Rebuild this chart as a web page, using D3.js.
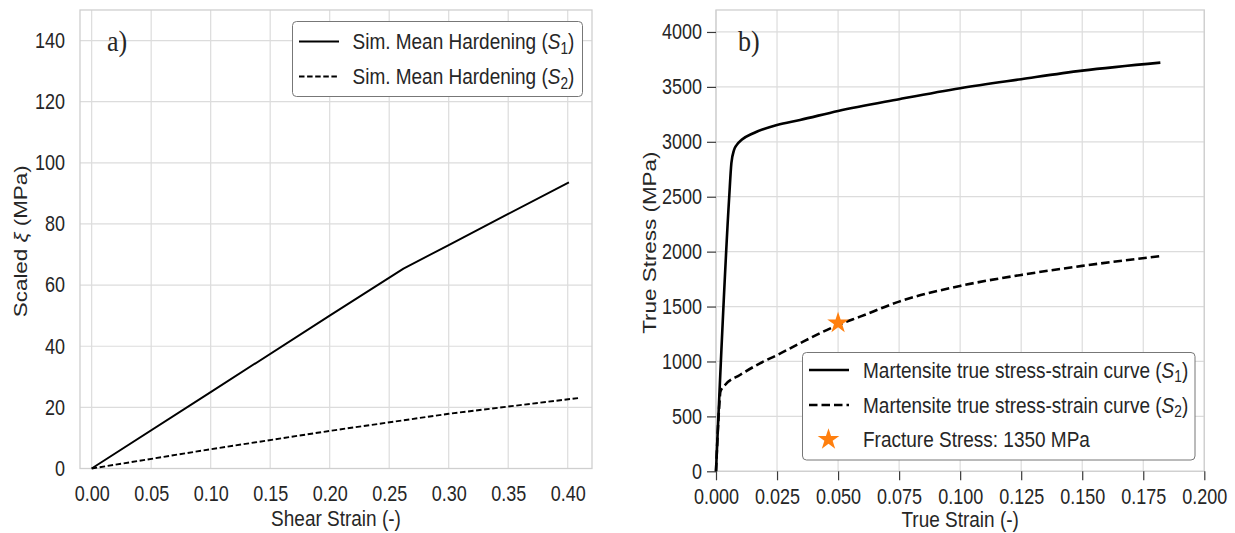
<!DOCTYPE html>
<html>
<head>
<meta charset="utf-8">
<script src="https://cdn.jsdelivr.net/npm/d3@7"></script>
<style>
  body { margin: 0; background: #fff; }
  svg { display: block; }
  text { font-family: "Liberation Sans", Arial, Helvetica, sans-serif; fill: #262626; }
</style>
</head>
<body>
<div id="chart"></div>
<script>
// panel a) simulated mean hardening
var shearStrainS1 = [0, 0.10, 0.20, 0.262, 0.30, 0.35, 0.401];
var xiS1 = [0, 25, 50, 65.4, 73.1, 83.3, 93.6];
var shearStrainS2 = [0, 0.10, 0.20, 0.30, 0.41];
var xiS2 = [0, 6.3, 12.3, 17.9, 23.1];
var xiTicks = [0, 20, 40, 60, 80, 100, 120, 140];
var shearTicks = [0, 0.05, 0.10, 0.15, 0.20, 0.25, 0.30, 0.35, 0.40];

// panel b) martensite true stress-strain curves
var trueStrainS1 = [0, 0.0054, 0.0063, 0.0074, 0.0085, 0.0105, 0.0153, 0.025, 0.0344, 0.05, 0.075, 0.10, 0.125, 0.15, 0.182];
var stressS1 = [0, 2495, 2805, 2926, 2972, 3018, 3078, 3154, 3199, 3281, 3388, 3488, 3570, 3648, 3721];
var trueStrainS2 = [0, 0.0014, 0.0018, 0.0037, 0.0098, 0.018, 0.0251, 0.0344, 0.05, 0.059, 0.075, 0.10, 0.125, 0.15, 0.182];
var stressS2 = [0, 620, 725, 786, 877, 983, 1059, 1166, 1332, 1408, 1545, 1688, 1788, 1870, 1960];
var fracture = [0.05, 1350];
var stressTicks = [0, 500, 1000, 1500, 2000, 2500, 3000, 3500, 4000];
var strainTicks = [0, 0.025, 0.05, 0.075, 0.10, 0.125, 0.15, 0.175, 0.20];

var W = 1235, H = 533;
var SY = 1.18;          // the source image is slightly stretched vertically
var gridColor = "#dcdcdc", frameColor = "#cfcfcf";

var svg = d3.select("#chart").append("svg")
    .attr("width", W)
    .attr("height", H);

function zip(xs, ys) {
    return xs.map(function (x, i) { return [x, ys[i]]; });
}

// stretched text helper
function stext(g, x, y, size, anchor, rotate) {
    var t = g.append("text")
        .attr("transform", "translate(" + x + "," + y + ")" +
            (rotate ? " rotate(-90) scale(" + SY + ",1)" : " scale(1," + SY + ")"))
        .attr("text-anchor", anchor || "start")
        .style("font-size", size + "px");
    return t;
}

function subLabel(t, pre, sub, post) {
    t.append("tspan").text(pre);
    t.append("tspan").style("font-style", "italic").text("S");
    t.append("tspan").attr("dy", 4).style("font-size", "0.72em").text(sub);
    t.append("tspan").attr("dy", -4).text(post);
}

function panel(opt) {
    var g = svg.append("g");
    var x = d3.scaleLinear().domain(opt.xDomain).range([opt.left, opt.right]);
    var y = d3.scaleLinear().domain(opt.yDomain).range([opt.bottom, opt.top]);

    // grid
    g.append("g").selectAll("line.gx").data(opt.xTicks).enter().append("line")
        .attr("x1", function (d) { return x(d); }).attr("x2", function (d) { return x(d); })
        .attr("y1", opt.top).attr("y2", opt.bottom)
        .attr("stroke", gridColor).attr("stroke-width", 1.2);
    g.append("g").selectAll("line.gy").data(opt.yTicks).enter().append("line")
        .attr("y1", function (d) { return y(d); }).attr("y2", function (d) { return y(d); })
        .attr("x1", opt.left).attr("x2", opt.right)
        .attr("stroke", gridColor).attr("stroke-width", 1.2);

    g.append("rect")
        .attr("x", opt.left).attr("y", opt.top)
        .attr("width", opt.right - opt.left).attr("height", opt.bottom - opt.top)
        .attr("fill", "none").attr("stroke", frameColor).attr("stroke-width", 1.3);

    // axes
    var tickFs = 18;
    var ax = g.append("g").attr("transform", "translate(0," + opt.bottom + ")")
        .call(d3.axisBottom(x).tickValues(opt.xTicks).tickFormat(d3.format(opt.xFormat))
            .tickSize(opt.tickLen).tickPadding(0));
    var ay = g.append("g").attr("transform", "translate(" + opt.left + ",0)")
        .call(d3.axisLeft(y).tickValues(opt.yTicks).tickFormat(d3.format("d"))
            .tickSize(opt.tickLen).tickPadding(opt.yPad));
    [ax, ay].forEach(function (a) {
        a.select(".domain").remove();
        a.selectAll("line").attr("stroke", "#3a3a3a").attr("stroke-width", 1.2);
        a.selectAll("text").style("font-size", tickFs + "px").style("font-family", null)
            .attr("fill", "#262626");
    });
    ax.selectAll("text")
        .attr("y", opt.xLabGap / SY + 0.358 * tickFs).attr("dy", 0)
        .attr("transform", "scale(1," + SY + ")");
    ay.selectAll("text").attr("transform", "scale(1," + SY + ")");

    // axis titles
    stext(g, (opt.left + opt.right) / 2, opt.xTitleY, 19, "middle").text(opt.xTitle);
    var yt = stext(g, opt.yTitleX, (opt.top + opt.bottom) / 2 + 2, 19, "middle", true);
    opt.yTitle(yt);

    // panel letter
    g.append("text")
        .attr("transform", "translate(" + opt.letterX + ",51) scale(1,1.1)")
        .style("font-family", '"Liberation Serif", "Times New Roman", serif')
        .style("font-size", "26px").attr("fill", "#000")
        .text(opt.letter);

    var line = d3.line()
        .x(function (d) { return x(d[0]); })
        .y(function (d) { return y(d[1]); });
    opt.series.forEach(function (s) {
        g.append("path")
            .attr("d", line.curve(s.curve || d3.curveLinear)(s.data))
            .attr("fill", "none")
            .attr("stroke", "#000")
            .attr("stroke-width", s.width)
            .attr("stroke-dasharray", s.dash || null)
            .attr("stroke-linejoin", "round");
    });
    return { g: g, x: x, y: y };
}

// ---------- panel a ----------
var pa = panel({
    left: 80, right: 592, top: 10, bottom: 468.5,
    xDomain: [-0.0098, 0.4204], yDomain: [0, 150],
    xTicks: shearTicks, yTicks: xiTicks, xFormat: ".2f",
    tickLen: 0, yPad: 15, xLabGap: 25,
    xTitle: "Shear Strain (-)", xTitleY: 525.5,
    yTitleX: 27,
    yTitle: function (t) {
        t.append("tspan").text("Scaled ");
        t.append("tspan").style("font-style", "italic").text("ξ");
        t.append("tspan").text(" (MPa)");
    },
    letter: "a)", letterX: 107,
    series: [
        { data: zip(shearStrainS1, xiS1), width: 1.9 },
        { data: zip(shearStrainS2, xiS2), width: 1.9, dash: "5.5,2.6" }
    ]
});

var la = pa.g.append("g");
la.append("rect").attr("x", 292.5).attr("y", 21.5).attr("width", 290).attr("height", 75)
    .attr("rx", 4).attr("fill", "#fff").attr("stroke", "#777").attr("stroke-width", 1);
[{ y: 41.5, dash: null, sub: "1" }, { y: 76.5, dash: "5.5,2.6", sub: "2" }].forEach(function (r) {
    la.append("line").attr("x1", 299).attr("x2", 339).attr("y1", r.y).attr("y2", r.y)
        .attr("stroke", "#000").attr("stroke-width", 1.9).attr("stroke-dasharray", r.dash);
    subLabel(stext(la, 352.5, r.y + 7.5, 19, "start"), "Sim. Mean Hardening (", r.sub, ")");
});

// ---------- panel b ----------
var pb = panel({
    left: 716, right: 1204.3, top: 10, bottom: 471.3,
    xDomain: [0, 0.2], yDomain: [0, 4200],
    xTicks: strainTicks, yTicks: stressTicks, xFormat: ".3f",
    tickLen: 9, yPad: 5, xLabGap: 25.5,
    xTitle: "True Strain (-)", xTitleY: 527,
    yTitleX: 656,
    yTitle: function (t) { t.text("True Stress (MPa)"); },
    letter: "b)", letterX: 738,
    series: [
        { data: zip(trueStrainS1, stressS1), width: 2.6, curve: d3.curveMonotoneX },
        { data: zip(trueStrainS2, stressS2), width: 2.6, dash: "8.5,4", curve: d3.curveMonotoneX }
    ]
});

var star = d3.symbol().type(d3.symbolStar).size(145);
pb.g.append("path")
    .attr("d", star())
    .attr("transform", "translate(" + pb.x(fracture[0]) + "," + pb.y(fracture[1]) + ")")
    .attr("fill", "#ff7f0e");

var lb = pb.g.append("g");
lb.append("rect").attr("x", 802.5).attr("y", 352.5).attr("width", 392.5).attr("height", 107.5)
    .attr("rx", 4).attr("fill", "#fff").attr("stroke", "#777").attr("stroke-width", 1);
[{ y: 370, dash: null, sub: "1" }, { y: 405, dash: "8.5,4", sub: "2" }].forEach(function (r) {
    lb.append("line").attr("x1", 809).attr("x2", 849).attr("y1", r.y).attr("y2", r.y)
        .attr("stroke", "#000").attr("stroke-width", 2.6).attr("stroke-dasharray", r.dash);
    subLabel(stext(lb, 863, r.y + 7.5, 19, "start"), "Martensite true stress-strain curve (", r.sub, ")");
});
lb.append("path").attr("d", star())
    .attr("transform", "translate(828.5,439.5)").attr("fill", "#ff7f0e");
stext(lb, 863, 447, 19, "start").text("Fracture Stress: " + fracture[1] + " MPa");
</script>
</body>
</html>
